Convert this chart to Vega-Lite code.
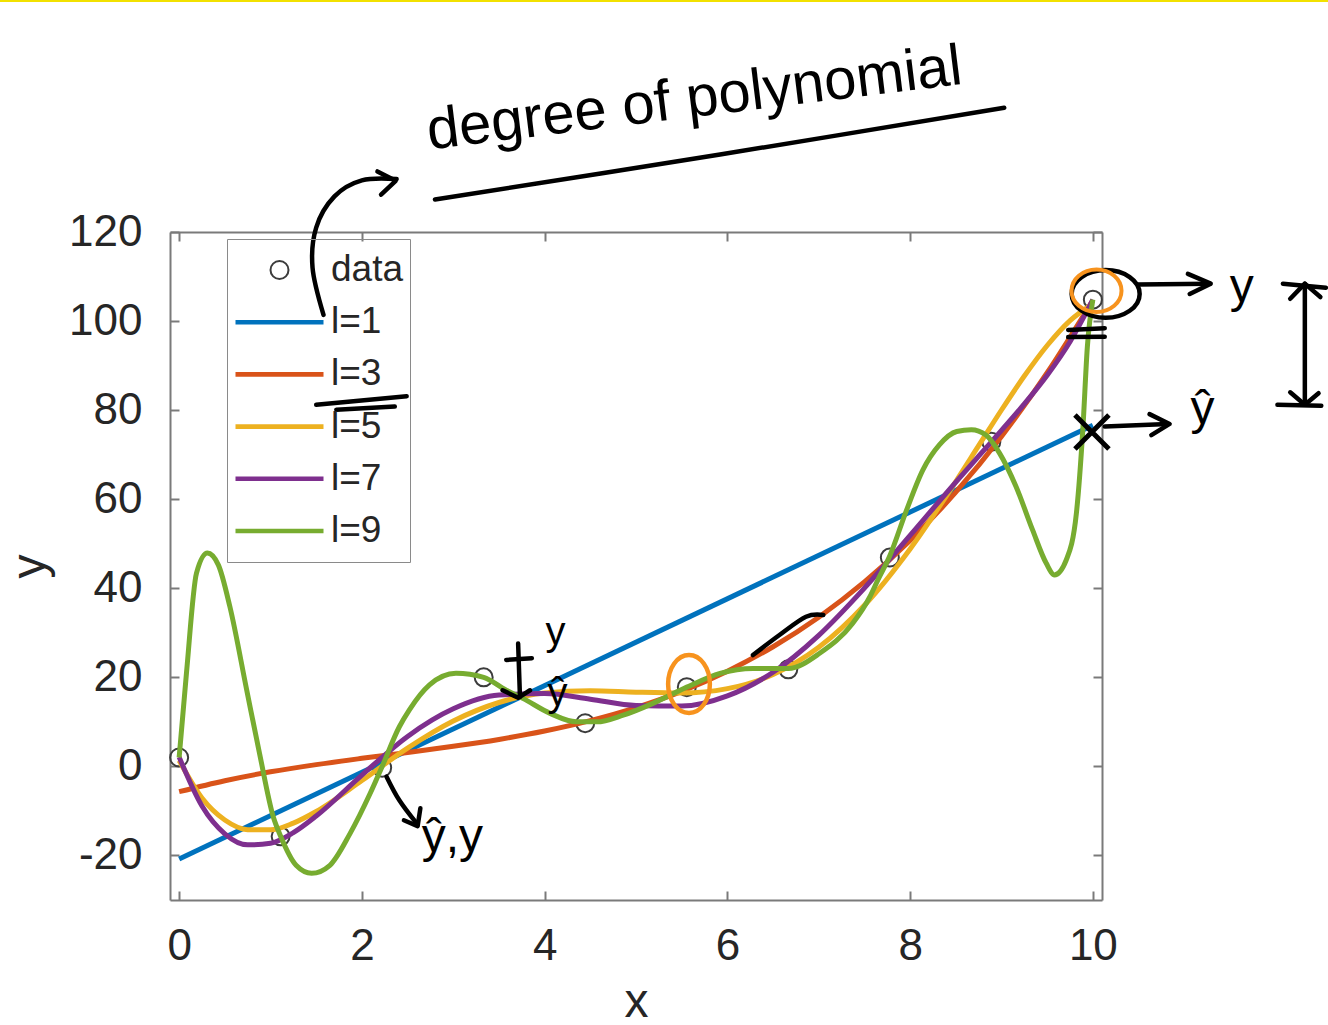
{
  "$schema": "https://vega.github.io/schema/vega-lite/v6.json",
  "width": 932,
  "height": 668,
  "autosize": {"type": "none"},
  "padding": {"left": 170, "top": 232, "right": 226, "bottom": 125},
  "background": "white",
  "config": {
    "view": {"stroke": null},
    "font": "Liberation Sans",
    "axis": {
      "grid": false,
      "domainColor": "#7a7a7a",
      "domainWidth": 2,
      "tickColor": "#7a7a7a",
      "tickWidth": 2,
      "tickSize": -9,
      "labelFont": "Liberation Sans",
      "labelFontSize": 44,
      "labelColor": "#262626",
      "titleFont": "Liberation Sans",
      "titleFontSize": 48,
      "titleFontWeight": "normal",
      "titleColor": "#262626"
    },
    "legend": {
      "orient": "none",
      "legendX": 57,
      "legendY": 7,
      "direction": "vertical",
      "padding": 6,
      "strokeColor": "#8a8a8a",
      "fillColor": "transparent",
      "labelFont": "Liberation Sans",
      "labelFontSize": 37,
      "labelColor": "#262626",
      "labelOffset": 5,
      "clipHeight": 50,
      "rowPadding": 2.2
    }
  },
  "datasets": {
    "points": [
      {"series": "data", "x": 0, "y": 2},
      {"series": "data", "x": 1.111, "y": -15.7},
      {"series": "data", "x": 2.222, "y": -0.3},
      {"series": "data", "x": 3.333, "y": 20},
      {"series": "data", "x": 4.444, "y": 9.7},
      {"series": "data", "x": 5.556, "y": 17.8},
      {"series": "data", "x": 6.667, "y": 21.8},
      {"series": "data", "x": 7.778, "y": 46.9},
      {"series": "data", "x": 8.889, "y": 72.9},
      {"series": "data", "x": 10, "y": 104.8}
    ],
    "fits": [
      {"series": "l=1", "x": 0, "y": -20.8},
      {"series": "l=1", "x": 10, "y": 76.6},
      {"series": "l=3", "x": 0, "y": -5.68},
      {"series": "l=3", "x": 0.5, "y": -3.21},
      {"series": "l=3", "x": 1, "y": -1.22},
      {"series": "l=3", "x": 1.5, "y": 0.4},
      {"series": "l=3", "x": 2, "y": 1.81},
      {"series": "l=3", "x": 2.5, "y": 3.13},
      {"series": "l=3", "x": 3, "y": 4.51},
      {"series": "l=3", "x": 3.5, "y": 6.06},
      {"series": "l=3", "x": 4, "y": 7.94},
      {"series": "l=3", "x": 4.5, "y": 10.28},
      {"series": "l=3", "x": 5, "y": 13.2},
      {"series": "l=3", "x": 5.5, "y": 16.85},
      {"series": "l=3", "x": 6, "y": 21.37},
      {"series": "l=3", "x": 6.5, "y": 26.87},
      {"series": "l=3", "x": 7, "y": 33.51},
      {"series": "l=3", "x": 7.5, "y": 41.42},
      {"series": "l=3", "x": 8, "y": 50.73},
      {"series": "l=3", "x": 8.5, "y": 61.57},
      {"series": "l=3", "x": 9, "y": 74.09},
      {"series": "l=3", "x": 9.5, "y": 88.41},
      {"series": "l=3", "x": 10, "y": 104.68},
      {"series": "l=5", "x": 0, "y": 1.33},
      {"series": "l=5", "x": 0.25, "y": -7.09},
      {"series": "l=5", "x": 0.5, "y": -12.03},
      {"series": "l=5", "x": 0.75, "y": -14.2},
      {"series": "l=5", "x": 1, "y": -14.25},
      {"series": "l=5", "x": 1.25, "y": -12.73},
      {"series": "l=5", "x": 1.5, "y": -10.12},
      {"series": "l=5", "x": 2, "y": -3.18},
      {"series": "l=5", "x": 2.5, "y": 4.1},
      {"series": "l=5", "x": 3, "y": 10.19},
      {"series": "l=5", "x": 3.5, "y": 14.35},
      {"series": "l=5", "x": 4, "y": 16.48},
      {"series": "l=5", "x": 4.5, "y": 16.99},
      {"series": "l=5", "x": 5, "y": 16.66},
      {"series": "l=5", "x": 5.5, "y": 16.47},
      {"series": "l=5", "x": 6, "y": 17.46},
      {"series": "l=5", "x": 6.5, "y": 20.63},
      {"series": "l=5", "x": 7, "y": 26.73},
      {"series": "l=5", "x": 7.5, "y": 36.17},
      {"series": "l=5", "x": 8, "y": 48.83},
      {"series": "l=5", "x": 8.5, "y": 63.97},
      {"series": "l=5", "x": 8.75, "y": 72.01},
      {"series": "l=5", "x": 9, "y": 80.03},
      {"series": "l=5", "x": 9.25, "y": 87.66},
      {"series": "l=5", "x": 9.5, "y": 94.52},
      {"series": "l=5", "x": 9.75, "y": 100.11},
      {"series": "l=5", "x": 10, "y": 103.87},
      {"series": "l=7", "x": 0, "y": 2.09},
      {"series": "l=7", "x": 0.25, "y": -8.89},
      {"series": "l=7", "x": 0.5, "y": -15.13},
      {"series": "l=7", "x": 0.75, "y": -17.62},
      {"series": "l=7", "x": 1, "y": -17.26},
      {"series": "l=7", "x": 1.25, "y": -14.87},
      {"series": "l=7", "x": 1.5, "y": -11.14},
      {"series": "l=7", "x": 2, "y": -1.96},
      {"series": "l=7", "x": 2.5, "y": 6.73},
      {"series": "l=7", "x": 3, "y": 12.93},
      {"series": "l=7", "x": 3.5, "y": 16.01},
      {"series": "l=7", "x": 4, "y": 16.36},
      {"series": "l=7", "x": 4.5, "y": 15.1},
      {"series": "l=7", "x": 5, "y": 13.68},
      {"series": "l=7", "x": 5.5, "y": 13.54},
      {"series": "l=7", "x": 6, "y": 15.83},
      {"series": "l=7", "x": 6.5, "y": 21.14},
      {"series": "l=7", "x": 7, "y": 29.44},
      {"series": "l=7", "x": 7.5, "y": 40.04},
      {"series": "l=7", "x": 8, "y": 51.87},
      {"series": "l=7", "x": 8.5, "y": 63.84},
      {"series": "l=7", "x": 8.75, "y": 69.67},
      {"series": "l=7", "x": 9, "y": 75.46},
      {"series": "l=7", "x": 9.25, "y": 81.4},
      {"series": "l=7", "x": 9.5, "y": 87.84},
      {"series": "l=7", "x": 9.75, "y": 95.36},
      {"series": "l=7", "x": 10, "y": 104.81},
      {"series": "l=9", "x": 0, "y": 2.0},
      {"series": "l=9", "x": 0.08, "y": 20.9},
      {"series": "l=9", "x": 0.19, "y": 43.4},
      {"series": "l=9", "x": 0.31, "y": 47.9},
      {"series": "l=9", "x": 0.43, "y": 45.2},
      {"series": "l=9", "x": 0.555, "y": 35.9},
      {"series": "l=9", "x": 0.74, "y": 17.1},
      {"series": "l=9", "x": 0.88, "y": 2.9},
      {"series": "l=9", "x": 1.03, "y": -11.3},
      {"series": "l=9", "x": 1.111, "y": -15.7},
      {"series": "l=9", "x": 1.28, "y": -22.2},
      {"series": "l=9", "x": 1.45, "y": -24.0},
      {"series": "l=9", "x": 1.65, "y": -22.2},
      {"series": "l=9", "x": 1.87, "y": -15.1},
      {"series": "l=9", "x": 2.09, "y": -6.1},
      {"series": "l=9", "x": 2.222, "y": 0.0},
      {"series": "l=9", "x": 2.41, "y": 8.9},
      {"series": "l=9", "x": 2.52, "y": 12.7},
      {"series": "l=9", "x": 2.74, "y": 18.3},
      {"series": "l=9", "x": 3.03, "y": 20.9},
      {"series": "l=9", "x": 3.333, "y": 20.0},
      {"series": "l=9", "x": 3.58, "y": 17.1},
      {"series": "l=9", "x": 3.76, "y": 15.3},
      {"series": "l=9", "x": 4.06, "y": 11.9},
      {"series": "l=9", "x": 4.35, "y": 10.0},
      {"series": "l=9", "x": 4.57, "y": 10.0},
      {"series": "l=9", "x": 4.86, "y": 11.5},
      {"series": "l=9", "x": 5.19, "y": 14.2},
      {"series": "l=9", "x": 5.556, "y": 17.8},
      {"series": "l=9", "x": 5.92, "y": 20.9},
      {"series": "l=9", "x": 6.28, "y": 22.0},
      {"series": "l=9", "x": 6.667, "y": 22.0},
      {"series": "l=9", "x": 7.01, "y": 25.4},
      {"series": "l=9", "x": 7.37, "y": 32.1},
      {"series": "l=9", "x": 7.56, "y": 38.1},
      {"series": "l=9", "x": 7.65, "y": 42.0},
      {"series": "l=9", "x": 7.778, "y": 47.3},
      {"series": "l=9", "x": 7.96, "y": 57.5},
      {"series": "l=9", "x": 8.14, "y": 66.6},
      {"series": "l=9", "x": 8.32, "y": 72.2},
      {"series": "l=9", "x": 8.51, "y": 75.2},
      {"series": "l=9", "x": 8.67, "y": 75.6},
      {"series": "l=9", "x": 8.83, "y": 74.4},
      {"series": "l=9", "x": 8.98, "y": 70.3},
      {"series": "l=9", "x": 9.16, "y": 62.8},
      {"series": "l=9", "x": 9.34, "y": 53.1},
      {"series": "l=9", "x": 9.49, "y": 45.6},
      {"series": "l=9", "x": 9.58, "y": 43.0},
      {"series": "l=9", "x": 9.71, "y": 46.4},
      {"series": "l=9", "x": 9.82, "y": 56.9},
      {"series": "l=9", "x": 9.89, "y": 75.6},
      {"series": "l=9", "x": 9.94, "y": 94.3},
      {"series": "l=9", "x": 10, "y": 104.8}
    ],
    "smooth": [
      {"g": "underline", "i": 0, "x": 9.03, "y": 147.9},
      {"g": "underline", "i": 1, "x": 5.92, "y": 137.4},
      {"g": "underline", "i": 2, "x": 2.8, "y": 127.3},
      {"g": "curve", "i": 0, "x": 1.58, "y": 101.4},
      {"g": "curve", "i": 1, "x": 1.46, "y": 112.0},
      {"g": "curve", "i": 2, "x": 1.5, "y": 121.0},
      {"g": "curve", "i": 3, "x": 1.7, "y": 128.0},
      {"g": "curve", "i": 4, "x": 2.0, "y": 131.6},
      {"g": "curve", "i": 5, "x": 2.38, "y": 131.9},
      {"g": "under3a", "i": 0, "x": 1.5, "y": 81.2},
      {"g": "under3a", "i": 1, "x": 2.49, "y": 83.1},
      {"g": "under3b", "i": 0, "x": 1.72, "y": 80.1},
      {"g": "under3b", "i": 1, "x": 2.36, "y": 80.8},
      {"g": "eqa", "i": 0, "x": 9.73, "y": 98.0},
      {"g": "eqa", "i": 1, "x": 10.13, "y": 98.4},
      {"g": "eqb", "i": 0, "x": 9.73, "y": 96.4},
      {"g": "eqb", "i": 1, "x": 10.13, "y": 96.5},
      {"g": "dash7", "i": 0, "x": 6.28, "y": 25.0},
      {"g": "dash7", "i": 1, "x": 6.57, "y": 29.5},
      {"g": "dash7", "i": 2, "x": 6.86, "y": 33.6},
      {"g": "dash7", "i": 3, "x": 7.05, "y": 34.0},
      {"g": "arrowy", "i": 0, "x": 10.49, "y": 108.2},
      {"g": "arrowy", "i": 1, "x": 11.28, "y": 108.4},
      {"g": "arrowyhat", "i": 0, "x": 10.13, "y": 76.3},
      {"g": "arrowyhat", "i": 1, "x": 10.82, "y": 76.9},
      {"g": "vert", "i": 0, "x": 12.32, "y": 108.4},
      {"g": "vert", "i": 1, "x": 12.32, "y": 81.2},
      {"g": "captop", "i": 0, "x": 12.08, "y": 108.4},
      {"g": "captop", "i": 1, "x": 12.55, "y": 107.5},
      {"g": "capbot", "i": 0, "x": 12.02, "y": 81.2},
      {"g": "capbot", "i": 1, "x": 12.5, "y": 81.0},
      {"g": "arrow2", "i": 0, "x": 2.27, "y": -2.3},
      {"g": "arrow2", "i": 1, "x": 2.41, "y": -7.6},
      {"g": "arrow2", "i": 2, "x": 2.6, "y": -12.8},
      {"g": "arrow4", "i": 0, "x": 3.71, "y": 27.6},
      {"g": "arrow4", "i": 1, "x": 3.73, "y": 15.6},
      {"g": "arrow4bar", "i": 0, "x": 3.58, "y": 23.9},
      {"g": "arrow4bar", "i": 1, "x": 3.86, "y": 24.3}
    ],
    "sharp": [
      {"g": "curvehead", "i": 0, "x": 2.17, "y": 133.6},
      {"g": "curvehead", "i": 1, "x": 2.37, "y": 131.5},
      {"g": "curvehead", "i": 2, "x": 2.21, "y": 128.4},
      {"g": "arrowyhead", "i": 0, "x": 11.04, "y": 110.6},
      {"g": "arrowyhead", "i": 1, "x": 11.29, "y": 108.4},
      {"g": "arrowyhead", "i": 2, "x": 11.06, "y": 106.1},
      {"g": "arrowyhathead", "i": 0, "x": 10.62, "y": 79.1},
      {"g": "arrowyhathead", "i": 1, "x": 10.84, "y": 76.9},
      {"g": "arrowyhathead", "i": 2, "x": 10.64, "y": 74.4},
      {"g": "verttop", "i": 0, "x": 12.16, "y": 105.0},
      {"g": "verttop", "i": 1, "x": 12.32, "y": 108.4},
      {"g": "verttop", "i": 2, "x": 12.49, "y": 105.4},
      {"g": "vertbot", "i": 0, "x": 12.16, "y": 84.0},
      {"g": "vertbot", "i": 1, "x": 12.32, "y": 81.2},
      {"g": "vertbot", "i": 2, "x": 12.47, "y": 83.8},
      {"g": "arrow2head", "i": 0, "x": 2.46, "y": -12.1},
      {"g": "arrow2head", "i": 1, "x": 2.61, "y": -13.4},
      {"g": "arrow2head", "i": 2, "x": 2.64, "y": -9.4},
      {"g": "arrow4head", "i": 0, "x": 3.54, "y": 17.1},
      {"g": "arrow4head", "i": 1, "x": 3.71, "y": 15.4},
      {"g": "arrow4head", "i": 2, "x": 3.84, "y": 17.1}
    ],
    "border": [
      {"x": -2.0, "y": 172.0},
      {"x": 12.6, "y": 172.0}
    ],
    "title": [
      {"x": 5.64, "y": 149.7, "t": "degree of polynomial"}
    ],
    "notes": [
      {"x": 11.63, "y": 107.5, "t": "y"},
      {"x": 11.2, "y": 80.1, "t": "ŷ"},
      {"x": 2.99, "y": -16.0, "t": "ŷ,y"}
    ],
    "notes2": [
      {"x": 4.12, "y": 30.0, "t": "y"},
      {"x": 4.14, "y": 16.3, "t": "ŷ"}
    ],
    "blackring": [{"x": 10.14, "y": 106.1}],
    "orangering": [{"x": 10.04, "y": 106.8}],
    "orangeoval": [{"x": 5.58, "y": 18.5}],
    "cross": [{"x": 9.99, "y": 75.1}]
  },
  "layer": [
    {
      "data": {"name": "border"},
      "mark": {"type": "line", "color": "#F2E100", "strokeWidth": 3},
      "encoding": {
        "x": {"field": "x", "type": "quantitative", "scale": {"domain": [-0.1, 10.1], "nice": false, "zero": false}, "axis": null},
        "y": {"field": "y", "type": "quantitative", "scale": {"domain": [-30, 120], "nice": false, "zero": false}, "axis": null}
      }
    },
    {
      "data": {"name": "points"},
      "mark": {"type": "point", "filled": false, "opacity": 1},
      "encoding": {
        "x": {"field": "x", "type": "quantitative",
          "scale": {"domain": [-0.1, 10.1], "nice": false, "zero": false},
          "axis": {"orient": "bottom", "values": [0, 2, 4, 6, 8, 10], "title": "x", "labelPadding": 33, "titlePadding": 10}},
        "y": {"field": "y", "type": "quantitative",
          "scale": {"domain": [-30, 120], "nice": false, "zero": false},
          "axis": {"orient": "left", "values": [-20, 0, 20, 40, 60, 80, 100, 120], "labelExpr": "'' + datum.value", "title": "y", "labelPadding": 37, "titlePadding": 14}},
        "color": {"field": "series", "type": "nominal",
          "scale": {"domain": ["data", "l=1", "l=3", "l=5", "l=7", "l=9"], "range": ["#3c3c3c", "#0072BD", "#D95319", "#EDB120", "#7E2F8E", "#77AC30"]},
          "legend": {"title": null, "labelExpr": "datum.label + '\u2003\u2002'"}},
        "shape": {"field": "series", "type": "nominal",
          "scale": {"domain": ["data", "l=1", "l=3", "l=5", "l=7", "l=9"], "range": ["circle", "stroke", "stroke", "stroke", "stroke", "stroke"]},
          "legend": {"title": null, "labelExpr": "datum.label + '\u2003\u2002'"}},
        "size": {"field": "series", "type": "nominal",
          "scale": {"type": "ordinal", "domain": ["data", "l=1", "l=3", "l=5", "l=7", "l=9"], "range": [324, 7744, 7744, 7744, 7744, 7744]},
          "legend": {"title": null, "labelExpr": "datum.label + '\u2003\u2002'"}},
        "strokeWidth": {"field": "series", "type": "nominal",
          "scale": {"type": "ordinal", "domain": ["data", "l=1", "l=3", "l=5", "l=7", "l=9"], "range": [2, 4.6, 4.6, 4.6, 4.6, 4.6]},
          "legend": {"title": null, "labelExpr": "datum.label + '\u2003\u2002'"}}
      }
    },
    {
      "data": {"name": "fits"},
      "mark": {"type": "line", "strokeWidth": 5, "interpolate": "monotone", "clip": true},
      "encoding": {
        "x": {"field": "x", "type": "quantitative",
          "scale": {"domain": [-0.1, 10.1], "nice": false, "zero": false},
          "axis": {"orient": "top", "values": [0, 2, 4, 6, 8, 10], "labels": false, "title": null}},
        "y": {"field": "y", "type": "quantitative",
          "scale": {"domain": [-30, 120], "nice": false, "zero": false},
          "axis": {"orient": "right", "values": [-20, 0, 20, 40, 60, 80, 100, 120], "labels": false, "title": null}},
        "color": {"field": "series", "type": "nominal",
          "scale": {"domain": ["data", "l=1", "l=3", "l=5", "l=7", "l=9"], "range": ["#3c3c3c", "#0072BD", "#D95319", "#EDB120", "#7E2F8E", "#77AC30"]},
          "legend": {"title": null, "labelExpr": "datum.label + '\u2003\u2002'"}}
      }
    },
    {
      "data": {"name": "smooth"},
      "mark": {"type": "line", "color": "black", "strokeWidth": 4.5, "strokeCap": "round", "strokeJoin": "round", "interpolate": "cardinal"},
      "encoding": {
        "x": {"field": "x", "type": "quantitative", "scale": {"domain": [-0.1, 10.1], "nice": false, "zero": false}, "axis": null},
        "y": {"field": "y", "type": "quantitative", "scale": {"domain": [-30, 120], "nice": false, "zero": false}, "axis": null},
        "detail": {"field": "g", "type": "nominal"},
        "order": {"field": "i", "type": "quantitative"}
      }
    },
    {
      "data": {"name": "sharp"},
      "mark": {"type": "line", "color": "black", "strokeWidth": 4.5, "strokeCap": "round", "strokeJoin": "round", "interpolate": "linear"},
      "encoding": {
        "x": {"field": "x", "type": "quantitative", "scale": {"domain": [-0.1, 10.1], "nice": false, "zero": false}, "axis": null},
        "y": {"field": "y", "type": "quantitative", "scale": {"domain": [-30, 120], "nice": false, "zero": false}, "axis": null},
        "detail": {"field": "g", "type": "nominal"},
        "order": {"field": "i", "type": "quantitative"}
      }
    },
    {
      "data": {"name": "title"},
      "mark": {"type": "text", "font": "Liberation Sans", "fontSize": 58, "angle": -7, "color": "black", "align": "center", "baseline": "middle"},
      "encoding": {
        "x": {"field": "x", "type": "quantitative", "scale": {"domain": [-0.1, 10.1], "nice": false, "zero": false}, "axis": null},
        "y": {"field": "y", "type": "quantitative", "scale": {"domain": [-30, 120], "nice": false, "zero": false}, "axis": null},
        "text": {"field": "t"}
      }
    },
    {
      "data": {"name": "notes"},
      "mark": {"type": "text", "font": "Liberation Sans", "fontSize": 48, "color": "black", "align": "center", "baseline": "middle"},
      "encoding": {
        "x": {"field": "x", "type": "quantitative", "scale": {"domain": [-0.1, 10.1], "nice": false, "zero": false}, "axis": null},
        "y": {"field": "y", "type": "quantitative", "scale": {"domain": [-30, 120], "nice": false, "zero": false}, "axis": null},
        "text": {"field": "t"}
      }
    },
    {
      "data": {"name": "notes2"},
      "mark": {"type": "text", "font": "Liberation Sans", "fontSize": 40, "color": "black", "align": "center", "baseline": "middle"},
      "encoding": {
        "x": {"field": "x", "type": "quantitative", "scale": {"domain": [-0.1, 10.1], "nice": false, "zero": false}, "axis": null},
        "y": {"field": "y", "type": "quantitative", "scale": {"domain": [-30, 120], "nice": false, "zero": false}, "axis": null},
        "text": {"field": "t"}
      }
    },
    {
      "data": {"name": "blackring"},
      "mark": {"type": "point", "filled": false, "shape": "M-1,0A1,0.7 0 1,1 1,0A1,0.7 0 1,1 -1,0Z", "size": 4624, "stroke": "black", "strokeWidth": 4.5, "opacity": 1},
      "encoding": {
        "x": {"field": "x", "type": "quantitative", "scale": {"domain": [-0.1, 10.1], "nice": false, "zero": false}, "axis": null},
        "y": {"field": "y", "type": "quantitative", "scale": {"domain": [-30, 120], "nice": false, "zero": false}, "axis": null}
      }
    },
    {
      "data": {"name": "orangering"},
      "mark": {"type": "point", "filled": false, "shape": "M-1,0A1,0.85 0 1,1 1,0A1,0.85 0 1,1 -1,0Z", "size": 2500, "stroke": "#F7931E", "strokeWidth": 4, "opacity": 1},
      "encoding": {
        "x": {"field": "x", "type": "quantitative", "scale": {"domain": [-0.1, 10.1], "nice": false, "zero": false}, "axis": null},
        "y": {"field": "y", "type": "quantitative", "scale": {"domain": [-30, 120], "nice": false, "zero": false}, "axis": null}
      }
    },
    {
      "data": {"name": "orangeoval"},
      "mark": {"type": "point", "filled": false, "shape": "M-0.72,0A0.72,1 0 1,1 0.72,0A0.72,1 0 1,1 -0.72,0Z", "size": 3364, "stroke": "#F7931E", "strokeWidth": 4.5, "opacity": 1},
      "encoding": {
        "x": {"field": "x", "type": "quantitative", "scale": {"domain": [-0.1, 10.1], "nice": false, "zero": false}, "axis": null},
        "y": {"field": "y", "type": "quantitative", "scale": {"domain": [-30, 120], "nice": false, "zero": false}, "axis": null}
      }
    },
    {
      "data": {"name": "cross"},
      "mark": {"type": "point", "filled": false, "shape": "M-1,-1L1,1M-1,1L1,-1", "size": 1156, "stroke": "black", "strokeWidth": 5, "opacity": 1},
      "encoding": {
        "x": {"field": "x", "type": "quantitative", "scale": {"domain": [-0.1, 10.1], "nice": false, "zero": false}, "axis": null},
        "y": {"field": "y", "type": "quantitative", "scale": {"domain": [-30, 120], "nice": false, "zero": false}, "axis": null}
      }
    }
  ],
  "resolve": {"axis": {"x": "independent", "y": "independent"}}
}
